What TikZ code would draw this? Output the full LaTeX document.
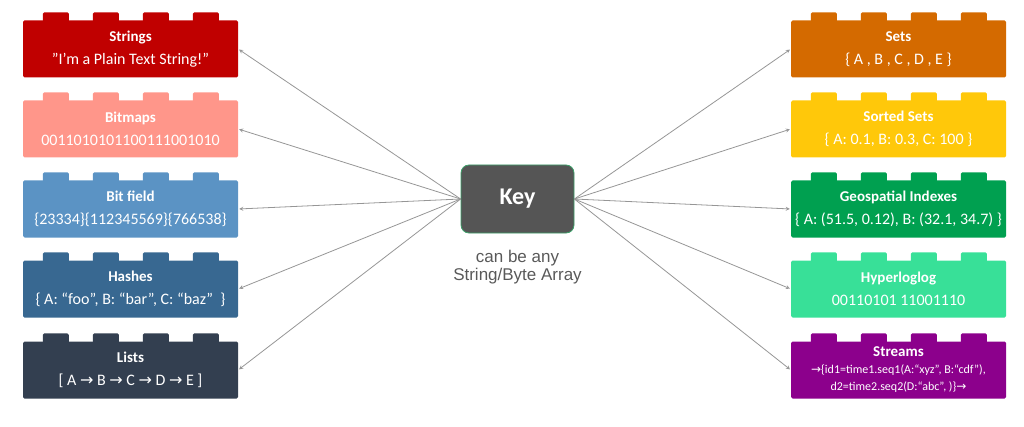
\documentclass[tikz,border=0pt]{standalone}
\usepackage{fontspec}
\setmainfont{Carlito}
\newfontfamily\capfont{Liberation Sans}
\newfontfamily\symfont{DejaVu Sans}
\usetikzlibrary{positioning,arrows}
\definecolor{strcol}{RGB}{192,0,0}
\definecolor{bmpcol}{RGB}{255,150,138}
\definecolor{bfcol}{RGB}{91,147,196}
\definecolor{hashcol}{RGB}{56,104,145}
\definecolor{listcol}{RGB}{51,63,80}
\definecolor{setcol}{RGB}{212,106,0}
\definecolor{zsetcol}{RGB}{255,200,10}
\definecolor{geocol}{RGB}{0,160,80}
\definecolor{hllcol}{RGB}{56,224,152}
\definecolor{strmcol}{RGB}{140,0,140}
\definecolor{keycol}{RGB}{85,85,85}
\definecolor{keyedge}{RGB}{60,160,105}
\definecolor{linegray}{RGB}{150,150,150}
\definecolor{capgray}{RGB}{89,89,89}
\newcommand{\btitle}[1]{{\bfseries\fontsize{15}{23}\selectfont #1}}
\newcommand{\rarr}{{\symfont\char"2192}}
\tikzset
{
    brick/.style = {rectangle, fill=#1, text=white, minimum width=215pt, minimum height=57pt, inner sep=0pt, rounded corners=1.5pt, align=center, font=\fontsize{16}{23}\selectfont},
    keybox/.style = {rectangle, fill=keycol, draw=keyedge, line width=0.8pt, rounded corners=8pt, minimum width=113pt, minimum height=68pt, text=white, font=\bfseries\fontsize{24}{28}\selectfont},
    caption/.style = {align=center, inner sep=0pt, text=capgray, font=\capfont\fontsize{17}{18}\selectfont},
    arrow/.style = {->, >=stealth, draw=linegray, line width=0.8pt, shorten >=1pt}
}
\begin{document}
\begin{tikzpicture}[x=1pt,y=1pt]
	\useasboundingbox (0,0) rectangle (1024,426);
	\node (key) [keybox] at (517.5,227) {Key};
	\node (keycap) [caption, below=17pt of key] {can be any\\String/Byte Array};

	% left column
	\node (strings) [brick=strcol] at (130.5,377) {\btitle{Strings}\\\char"22 I'm a Plain Text String!”};
	\node (bitmaps) [brick=bmpcol] at (130.5,297) {\btitle{Bitmaps}\\0011010101100111001010};
	\node (bitfield) [brick=bfcol] at (130.5,217) {\btitle{Bit field}\\\{23334\}\{112345569\}\{766538\}};
	\node (hashes) [brick=hashcol] at (130.5,137) {\btitle{Hashes}\\\{ A: “foo”, B: “bar”, C: “baz”\ \ \}};
	\node (lists) [brick=listcol] at (130.5,56) {\btitle{Lists}\\{[} A \rarr{} B \rarr{} C \rarr{} D \rarr{} E ]};

	% right column
	\node (sets) [brick=setcol] at (898.5,377) {\btitle{Sets}\\\{ A , B , C , D , E \}};
	\node (zsets) [brick=zsetcol] at (898.5,297) {\btitle{Sorted Sets}\\\{ A: 0.1, B: 0.3, C: 100 \}};
	\node (geo) [brick=geocol] at (898.5,217) {\btitle{Geospatial Indexes}\\\{ A: (51.5, 0.12), B: (32.1, 34.7) \}};
	\node (hll) [brick=hllcol] at (898.5,137) {\btitle{Hyperloglog}\\00110101 11001110};
	\node (streams) [brick=strmcol, font=\fontsize{12}{17}\selectfont] at (898.5,56) {{\bfseries\fontsize{15}{19}\selectfont Streams}\\\rarr\{id1=time1.seq1(A:“xyz”, B:“cdf”),\\d2=time2.seq2(D:“abc”, )\}\rarr};

	% studs on top of each brick
	\foreach \n/\c in {strings/strcol, bitmaps/bmpcol, bitfield/bfcol, hashes/hashcol, lists/listcol, sets/setcol, zsets/zsetcol, geo/geocol, hll/hllcol, streams/strmcol}
		\foreach \dx in {20,70,120,170}
			\fill [\c, rounded corners=1.5pt] ([xshift=\dx pt, yshift=-2pt]\n.north west) rectangle ++(26,10);

	% connectors
	\foreach \n in {strings, bitmaps, bitfield, hashes, lists}
		\draw [arrow] (key.west) -- (\n.east);
	\foreach \n in {sets, zsets, geo, hll, streams}
		\draw [arrow] (key.east) -- (\n.west);
\end{tikzpicture}
\end{document}
